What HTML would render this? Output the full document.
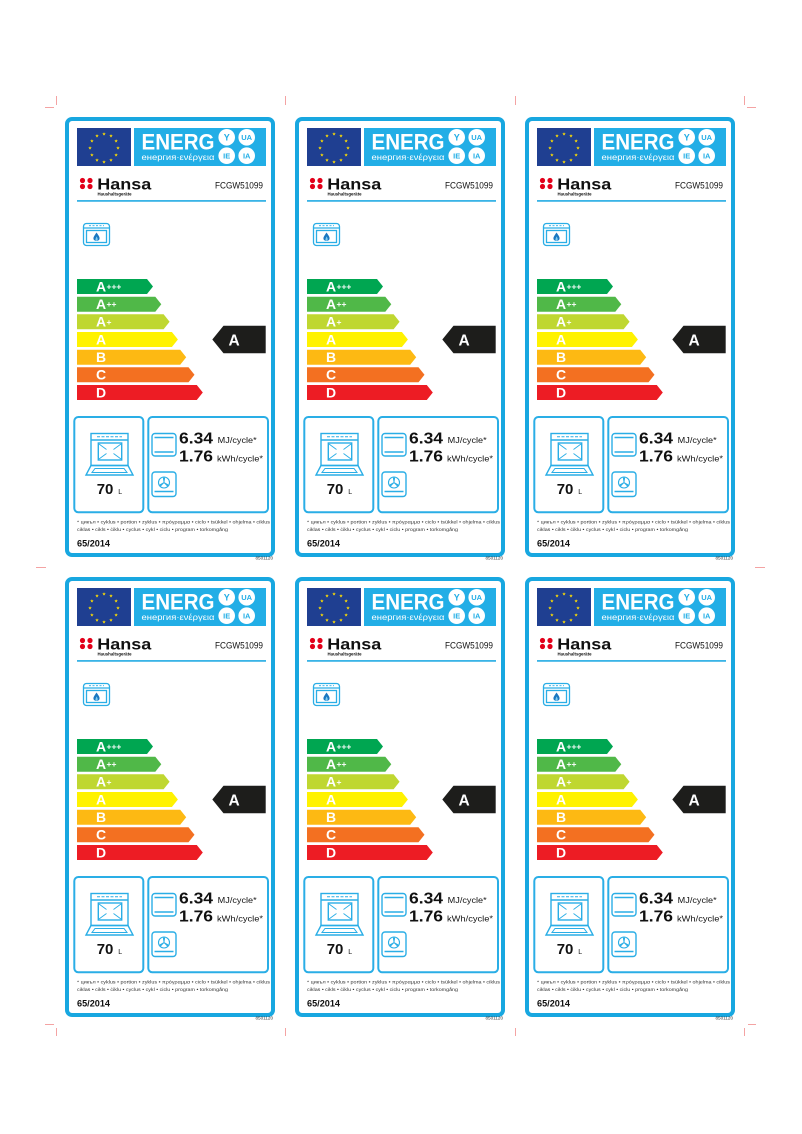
<!DOCTYPE html>
<html><head><meta charset="utf-8"><style>
html,body{margin:0;padding:0;background:#fff;}
svg{display:block;}
text{font-family:"Liberation Sans","DejaVu Sans",sans-serif;}
.w{fill:#fff;}
.b{font-weight:bold;}
.bl{fill:#111;}
.cy{fill:#22aee6;font-weight:bold;}
.bar{fill:#fff;font-weight:bold;font-size:14px;}
.pl{fill:#fff;font-weight:bold;font-size:8.5px;}
</style></head><body>
<svg width="802" height="1134" viewBox="0 0 802 1134" xmlns="http://www.w3.org/2000/svg">
<defs>
<polygon id="st" points="0,-1.9 0.44,-0.61 1.81,-0.59 0.71,0.23 1.12,1.54 0,0.75 -1.12,1.54 -0.71,0.23 -1.81,-0.59 -0.44,-0.61" fill="#ffdd00"/>
<g id="gfx">
 <rect x="2" y="2" width="206" height="436" rx="5" fill="#fff" stroke="#18a7e0" stroke-width="4"/>
 <rect x="12" y="11" width="54" height="38" fill="#1f3f91"/>
 <use href="#st" x="39" y="17"/><use href="#st" x="46" y="18.9"/><use href="#st" x="51.1" y="24"/>
 <use href="#st" x="53" y="31"/><use href="#st" x="51.1" y="38"/><use href="#st" x="46" y="43.1"/>
 <use href="#st" x="39" y="45"/><use href="#st" x="32" y="43.1"/><use href="#st" x="26.9" y="38"/>
 <use href="#st" x="25" y="31"/><use href="#st" x="26.9" y="24"/><use href="#st" x="32" y="18.9"/>
 <rect x="69" y="11" width="132" height="38" fill="#22aee6"/>
 <circle cx="161.7" cy="20.3" r="8.3" fill="#fff"/><circle cx="181.7" cy="20.3" r="8.3" fill="#fff"/>
 <circle cx="161.7" cy="38.7" r="8.3" fill="#fff"/><circle cx="181.7" cy="38.7" r="8.3" fill="#fff"/>
 <circle cx="17.5" cy="63.5" r="2.6" fill="#e2001a"/><circle cx="25" cy="63.5" r="2.6" fill="#e2001a"/>
 <circle cx="17.5" cy="69.5" r="2.6" fill="#e2001a"/><circle cx="25" cy="69.5" r="2.6" fill="#e2001a"/>
 <rect x="12" y="83" width="189" height="1.8" fill="#3ab4e6"/>
 <!-- gas oven icon -->
 <g fill="none" stroke="#2aaee6" stroke-width="1.3">
  <rect x="18.5" y="106.5" width="26" height="22" rx="3"/>
  <line x1="18.5" y1="111" x2="44.5" y2="111"/>
  <rect x="21.5" y="113.5" width="20" height="12"/>
  <line x1="24" y1="108.7" x2="39" y2="108.7" stroke-width="0.8" stroke-dasharray="2 1.5"/>
 </g>
 <path d="M31.5,115.5 C33.5,118.5 35,120 34.5,122 C34,124.5 29,124.5 28.5,122 C28,120 30,118 31.5,115.5Z" fill="#1b78c2"/>
 <path d="M31.5,119.5 C32.5,121 33,122 32.5,123 C32,124 31,124 30.5,123 C30.2,122 31,121 31.5,119.5Z" fill="#7fd0f2"/>
 <!-- bars -->
 <path d="M12,162H82L88,169.5L82,177H12Z" fill="#00a651"/>
 <path d="M12,179.7H90.3L96.3,187.2L90.3,194.7H12Z" fill="#50b848"/>
 <path d="M12,197.3H98.6L104.6,204.8L98.6,212.3H12Z" fill="#bfd730"/>
 <path d="M12,215H106.9L112.9,222.5L106.9,230H12Z" fill="#fff200"/>
 <path d="M12,232.7H115.2L121.2,240.2L115.2,247.7H12Z" fill="#fdb913"/>
 <path d="M12,250.3H123.5L129.5,257.8L123.5,265.3H12Z" fill="#f37021"/>
 <path d="M12,268H131.8L137.8,275.5L131.8,283H12Z" fill="#ed1c24"/>
 <path d="M147.3,222.5L158.5,208.7H200.7V236.3H158.5Z" fill="#1d1d1b"/>
 <!-- bottom boxes -->
 <rect x="9.3" y="300" width="69" height="95.3" rx="4" fill="none" stroke="#2aaee6" stroke-width="2"/>
 <rect x="83.3" y="300" width="119.7" height="95.3" rx="4" fill="none" stroke="#2aaee6" stroke-width="2"/>
 <!-- big oven -->
 <g fill="none" stroke="#2aaee6" stroke-width="1.4">
  <rect x="26" y="316.5" width="37" height="32"/>
  <line x1="26" y1="323" x2="63" y2="323"/>
  <line x1="32" y1="319.7" x2="57" y2="319.7" stroke-width="1" stroke-dasharray="3 1.5"/>
  <rect x="33.3" y="326" width="23.4" height="17"/>
  <line x1="34" y1="327" x2="41.5" y2="332.5" stroke-width="0.9"/>
  <line x1="56" y1="327" x2="48.5" y2="332.5" stroke-width="0.9"/>
  <line x1="34" y1="342" x2="41.5" y2="336.5" stroke-width="0.9"/>
  <line x1="56" y1="342" x2="48.5" y2="336.5" stroke-width="0.9"/>
  <polygon points="26,348.5 63,348.5 68,358 21,358"/>
  <polygon points="30,351.5 59,351.5 62,355.5 27,355.5" stroke-width="1"/>
 </g>
 <!-- small icons -->
 <g fill="none" stroke="#2aaee6" stroke-width="1.4">
  <rect x="87" y="316.5" width="24" height="22.5" rx="3"/>
  <line x1="89.5" y1="320.5" x2="108.5" y2="320.5"/>
  <line x1="89.5" y1="335" x2="108.5" y2="335"/>
  <rect x="87" y="355" width="24" height="24.5" rx="3"/>
  <circle cx="99" cy="365.5" r="5.5" stroke-width="1.1"/>
  <line x1="89.5" y1="374.5" x2="108.5" y2="374.5"/>
 </g>
 <path d="M99,365.5 L98.3,361 L99.7,361Z M99,365.5 L103,367.8 L102.3,369Z M99,365.5 L95,367.8 L95.7,369Z" fill="#2aaee6" stroke="#2aaee6" stroke-width="0.8"/>
</g>
</defs>

<!-- crop marks -->
<g stroke="#f4a3a3" stroke-width="1">
 <line x1="56.5" y1="96" x2="56.5" y2="105"/><line x1="45" y1="107.5" x2="54" y2="107.5"/>
 <line x1="285.5" y1="96" x2="285.5" y2="105"/><line x1="515.5" y1="96" x2="515.5" y2="105"/>
 <line x1="744.5" y1="96" x2="744.5" y2="105"/><line x1="747" y1="107.5" x2="756" y2="107.5"/>
 <line x1="36" y1="567.5" x2="46" y2="567.5"/><line x1="755" y1="567.5" x2="765" y2="567.5"/>
 <line x1="56.5" y1="1028" x2="56.5" y2="1036"/><line x1="45" y1="1024.5" x2="54" y2="1024.5"/>
 <line x1="285.5" y1="1028" x2="285.5" y2="1036"/><line x1="515.5" y1="1028" x2="515.5" y2="1036"/>
 <line x1="744.5" y1="1028" x2="744.5" y2="1036"/><line x1="748" y1="1024.5" x2="756" y2="1024.5"/>
</g>

<g transform="translate(65,117)">
 <use href="#gfx"/>
 <text x="76.5" y="32.5" class="w b" font-size="22" textLength="73" lengthAdjust="spacingAndGlyphs">ENERG</text>
 <text x="76.5" y="43" class="w" font-size="8.5" textLength="73" lengthAdjust="spacingAndGlyphs">енергия·ενέργεια</text>
 <text x="161.7" y="23.6" class="cy" font-size="9" text-anchor="middle">Y</text>
 <text x="181.7" y="23" class="cy" font-size="7.5" text-anchor="middle">UA</text>
 <text x="161.7" y="41.4" class="cy" font-size="7.5" text-anchor="middle">IE</text>
 <text x="181.7" y="41.4" class="cy" font-size="7.5" text-anchor="middle">IA</text>
 <text x="32.3" y="72.3" class="bl b" font-size="15.5" textLength="54" lengthAdjust="spacingAndGlyphs">Hansa</text>
 <text x="32.5" y="78.5" class="bl b" font-size="4.6" textLength="34" lengthAdjust="spacingAndGlyphs">Haushaltsgeräte</text>
 <text x="150" y="71.5" class="bl" font-size="9.3" textLength="48" lengthAdjust="spacingAndGlyphs">FCGW51099</text>
 <text x="31" y="174.3" class="bar">A</text><text x="41.5" y="172.5" class="pl">+++</text>
 <text x="31" y="192" class="bar">A</text><text x="41.5" y="190.2" class="pl">++</text>
 <text x="31" y="209.6" class="bar">A</text><text x="41.5" y="207.8" class="pl">+</text>
 <text x="31" y="227.3" class="bar">A</text>
 <text x="31" y="245" class="bar">B</text>
 <text x="31" y="262.6" class="bar">C</text>
 <text x="31" y="280.3" class="bar">D</text>
 <text x="163.5" y="228.5" class="w b" font-size="15.5">A</text>
 <text x="31.7" y="377" class="bl b" font-size="15">70</text>
 <text x="53.3" y="377" class="bl" font-size="7">L</text>
 <text x="114" y="326.3" class="bl b" font-size="15.5" textLength="34" lengthAdjust="spacingAndGlyphs">6.34</text>
 <text x="152.7" y="326" class="bl" font-size="8" textLength="39" lengthAdjust="spacingAndGlyphs">MJ/cycle*</text>
 <text x="114" y="344.7" class="bl b" font-size="15.5" textLength="34" lengthAdjust="spacingAndGlyphs">1.76</text>
 <text x="152" y="344.5" class="bl" font-size="8" textLength="46" lengthAdjust="spacingAndGlyphs">kWh/cycle*</text>
 <text x="12" y="406.5" fill="#333" font-size="4.6" textLength="193" lengthAdjust="spacingAndGlyphs">* цикъл • cyklus • portion • zyklus • πρόγραμμα • ciclo • tsükkel • ohjelma • ciklus</text>
 <text x="12" y="414" fill="#333" font-size="4.6" textLength="151" lengthAdjust="spacingAndGlyphs">ciklas • cikls • ċiklu • cyclus • cykl • ciclu • program • torkomgång</text>
 <text x="12" y="429.7" class="bl b" font-size="9.5" textLength="33" lengthAdjust="spacingAndGlyphs">65/2014</text>
 <text x="208" y="442.5" fill="#333" font-size="4.6" text-anchor="end">8501120</text>
</g>

<g transform="translate(295,117)">
 <use href="#gfx"/>
 <text x="76.5" y="32.5" class="w b" font-size="22" textLength="73" lengthAdjust="spacingAndGlyphs">ENERG</text>
 <text x="76.5" y="43" class="w" font-size="8.5" textLength="73" lengthAdjust="spacingAndGlyphs">енергия·ενέργεια</text>
 <text x="161.7" y="23.6" class="cy" font-size="9" text-anchor="middle">Y</text>
 <text x="181.7" y="23" class="cy" font-size="7.5" text-anchor="middle">UA</text>
 <text x="161.7" y="41.4" class="cy" font-size="7.5" text-anchor="middle">IE</text>
 <text x="181.7" y="41.4" class="cy" font-size="7.5" text-anchor="middle">IA</text>
 <text x="32.3" y="72.3" class="bl b" font-size="15.5" textLength="54" lengthAdjust="spacingAndGlyphs">Hansa</text>
 <text x="32.5" y="78.5" class="bl b" font-size="4.6" textLength="34" lengthAdjust="spacingAndGlyphs">Haushaltsgeräte</text>
 <text x="150" y="71.5" class="bl" font-size="9.3" textLength="48" lengthAdjust="spacingAndGlyphs">FCGW51099</text>
 <text x="31" y="174.3" class="bar">A</text><text x="41.5" y="172.5" class="pl">+++</text>
 <text x="31" y="192" class="bar">A</text><text x="41.5" y="190.2" class="pl">++</text>
 <text x="31" y="209.6" class="bar">A</text><text x="41.5" y="207.8" class="pl">+</text>
 <text x="31" y="227.3" class="bar">A</text>
 <text x="31" y="245" class="bar">B</text>
 <text x="31" y="262.6" class="bar">C</text>
 <text x="31" y="280.3" class="bar">D</text>
 <text x="163.5" y="228.5" class="w b" font-size="15.5">A</text>
 <text x="31.7" y="377" class="bl b" font-size="15">70</text>
 <text x="53.3" y="377" class="bl" font-size="7">L</text>
 <text x="114" y="326.3" class="bl b" font-size="15.5" textLength="34" lengthAdjust="spacingAndGlyphs">6.34</text>
 <text x="152.7" y="326" class="bl" font-size="8" textLength="39" lengthAdjust="spacingAndGlyphs">MJ/cycle*</text>
 <text x="114" y="344.7" class="bl b" font-size="15.5" textLength="34" lengthAdjust="spacingAndGlyphs">1.76</text>
 <text x="152" y="344.5" class="bl" font-size="8" textLength="46" lengthAdjust="spacingAndGlyphs">kWh/cycle*</text>
 <text x="12" y="406.5" fill="#333" font-size="4.6" textLength="193" lengthAdjust="spacingAndGlyphs">* цикъл • cyklus • portion • zyklus • πρόγραμμα • ciclo • tsükkel • ohjelma • ciklus</text>
 <text x="12" y="414" fill="#333" font-size="4.6" textLength="151" lengthAdjust="spacingAndGlyphs">ciklas • cikls • ċiklu • cyclus • cykl • ciclu • program • torkomgång</text>
 <text x="12" y="429.7" class="bl b" font-size="9.5" textLength="33" lengthAdjust="spacingAndGlyphs">65/2014</text>
 <text x="208" y="442.5" fill="#333" font-size="4.6" text-anchor="end">8501120</text>
</g>

<g transform="translate(525,117)">
 <use href="#gfx"/>
 <text x="76.5" y="32.5" class="w b" font-size="22" textLength="73" lengthAdjust="spacingAndGlyphs">ENERG</text>
 <text x="76.5" y="43" class="w" font-size="8.5" textLength="73" lengthAdjust="spacingAndGlyphs">енергия·ενέργεια</text>
 <text x="161.7" y="23.6" class="cy" font-size="9" text-anchor="middle">Y</text>
 <text x="181.7" y="23" class="cy" font-size="7.5" text-anchor="middle">UA</text>
 <text x="161.7" y="41.4" class="cy" font-size="7.5" text-anchor="middle">IE</text>
 <text x="181.7" y="41.4" class="cy" font-size="7.5" text-anchor="middle">IA</text>
 <text x="32.3" y="72.3" class="bl b" font-size="15.5" textLength="54" lengthAdjust="spacingAndGlyphs">Hansa</text>
 <text x="32.5" y="78.5" class="bl b" font-size="4.6" textLength="34" lengthAdjust="spacingAndGlyphs">Haushaltsgeräte</text>
 <text x="150" y="71.5" class="bl" font-size="9.3" textLength="48" lengthAdjust="spacingAndGlyphs">FCGW51099</text>
 <text x="31" y="174.3" class="bar">A</text><text x="41.5" y="172.5" class="pl">+++</text>
 <text x="31" y="192" class="bar">A</text><text x="41.5" y="190.2" class="pl">++</text>
 <text x="31" y="209.6" class="bar">A</text><text x="41.5" y="207.8" class="pl">+</text>
 <text x="31" y="227.3" class="bar">A</text>
 <text x="31" y="245" class="bar">B</text>
 <text x="31" y="262.6" class="bar">C</text>
 <text x="31" y="280.3" class="bar">D</text>
 <text x="163.5" y="228.5" class="w b" font-size="15.5">A</text>
 <text x="31.7" y="377" class="bl b" font-size="15">70</text>
 <text x="53.3" y="377" class="bl" font-size="7">L</text>
 <text x="114" y="326.3" class="bl b" font-size="15.5" textLength="34" lengthAdjust="spacingAndGlyphs">6.34</text>
 <text x="152.7" y="326" class="bl" font-size="8" textLength="39" lengthAdjust="spacingAndGlyphs">MJ/cycle*</text>
 <text x="114" y="344.7" class="bl b" font-size="15.5" textLength="34" lengthAdjust="spacingAndGlyphs">1.76</text>
 <text x="152" y="344.5" class="bl" font-size="8" textLength="46" lengthAdjust="spacingAndGlyphs">kWh/cycle*</text>
 <text x="12" y="406.5" fill="#333" font-size="4.6" textLength="193" lengthAdjust="spacingAndGlyphs">* цикъл • cyklus • portion • zyklus • πρόγραμμα • ciclo • tsükkel • ohjelma • ciklus</text>
 <text x="12" y="414" fill="#333" font-size="4.6" textLength="151" lengthAdjust="spacingAndGlyphs">ciklas • cikls • ċiklu • cyclus • cykl • ciclu • program • torkomgång</text>
 <text x="12" y="429.7" class="bl b" font-size="9.5" textLength="33" lengthAdjust="spacingAndGlyphs">65/2014</text>
 <text x="208" y="442.5" fill="#333" font-size="4.6" text-anchor="end">8501120</text>
</g>

<g transform="translate(65,577)">
 <use href="#gfx"/>
 <text x="76.5" y="32.5" class="w b" font-size="22" textLength="73" lengthAdjust="spacingAndGlyphs">ENERG</text>
 <text x="76.5" y="43" class="w" font-size="8.5" textLength="73" lengthAdjust="spacingAndGlyphs">енергия·ενέργεια</text>
 <text x="161.7" y="23.6" class="cy" font-size="9" text-anchor="middle">Y</text>
 <text x="181.7" y="23" class="cy" font-size="7.5" text-anchor="middle">UA</text>
 <text x="161.7" y="41.4" class="cy" font-size="7.5" text-anchor="middle">IE</text>
 <text x="181.7" y="41.4" class="cy" font-size="7.5" text-anchor="middle">IA</text>
 <text x="32.3" y="72.3" class="bl b" font-size="15.5" textLength="54" lengthAdjust="spacingAndGlyphs">Hansa</text>
 <text x="32.5" y="78.5" class="bl b" font-size="4.6" textLength="34" lengthAdjust="spacingAndGlyphs">Haushaltsgeräte</text>
 <text x="150" y="71.5" class="bl" font-size="9.3" textLength="48" lengthAdjust="spacingAndGlyphs">FCGW51099</text>
 <text x="31" y="174.3" class="bar">A</text><text x="41.5" y="172.5" class="pl">+++</text>
 <text x="31" y="192" class="bar">A</text><text x="41.5" y="190.2" class="pl">++</text>
 <text x="31" y="209.6" class="bar">A</text><text x="41.5" y="207.8" class="pl">+</text>
 <text x="31" y="227.3" class="bar">A</text>
 <text x="31" y="245" class="bar">B</text>
 <text x="31" y="262.6" class="bar">C</text>
 <text x="31" y="280.3" class="bar">D</text>
 <text x="163.5" y="228.5" class="w b" font-size="15.5">A</text>
 <text x="31.7" y="377" class="bl b" font-size="15">70</text>
 <text x="53.3" y="377" class="bl" font-size="7">L</text>
 <text x="114" y="326.3" class="bl b" font-size="15.5" textLength="34" lengthAdjust="spacingAndGlyphs">6.34</text>
 <text x="152.7" y="326" class="bl" font-size="8" textLength="39" lengthAdjust="spacingAndGlyphs">MJ/cycle*</text>
 <text x="114" y="344.7" class="bl b" font-size="15.5" textLength="34" lengthAdjust="spacingAndGlyphs">1.76</text>
 <text x="152" y="344.5" class="bl" font-size="8" textLength="46" lengthAdjust="spacingAndGlyphs">kWh/cycle*</text>
 <text x="12" y="406.5" fill="#333" font-size="4.6" textLength="193" lengthAdjust="spacingAndGlyphs">* цикъл • cyklus • portion • zyklus • πρόγραμμα • ciclo • tsükkel • ohjelma • ciklus</text>
 <text x="12" y="414" fill="#333" font-size="4.6" textLength="151" lengthAdjust="spacingAndGlyphs">ciklas • cikls • ċiklu • cyclus • cykl • ciclu • program • torkomgång</text>
 <text x="12" y="429.7" class="bl b" font-size="9.5" textLength="33" lengthAdjust="spacingAndGlyphs">65/2014</text>
 <text x="208" y="442.5" fill="#333" font-size="4.6" text-anchor="end">8501120</text>
</g>

<g transform="translate(295,577)">
 <use href="#gfx"/>
 <text x="76.5" y="32.5" class="w b" font-size="22" textLength="73" lengthAdjust="spacingAndGlyphs">ENERG</text>
 <text x="76.5" y="43" class="w" font-size="8.5" textLength="73" lengthAdjust="spacingAndGlyphs">енергия·ενέργεια</text>
 <text x="161.7" y="23.6" class="cy" font-size="9" text-anchor="middle">Y</text>
 <text x="181.7" y="23" class="cy" font-size="7.5" text-anchor="middle">UA</text>
 <text x="161.7" y="41.4" class="cy" font-size="7.5" text-anchor="middle">IE</text>
 <text x="181.7" y="41.4" class="cy" font-size="7.5" text-anchor="middle">IA</text>
 <text x="32.3" y="72.3" class="bl b" font-size="15.5" textLength="54" lengthAdjust="spacingAndGlyphs">Hansa</text>
 <text x="32.5" y="78.5" class="bl b" font-size="4.6" textLength="34" lengthAdjust="spacingAndGlyphs">Haushaltsgeräte</text>
 <text x="150" y="71.5" class="bl" font-size="9.3" textLength="48" lengthAdjust="spacingAndGlyphs">FCGW51099</text>
 <text x="31" y="174.3" class="bar">A</text><text x="41.5" y="172.5" class="pl">+++</text>
 <text x="31" y="192" class="bar">A</text><text x="41.5" y="190.2" class="pl">++</text>
 <text x="31" y="209.6" class="bar">A</text><text x="41.5" y="207.8" class="pl">+</text>
 <text x="31" y="227.3" class="bar">A</text>
 <text x="31" y="245" class="bar">B</text>
 <text x="31" y="262.6" class="bar">C</text>
 <text x="31" y="280.3" class="bar">D</text>
 <text x="163.5" y="228.5" class="w b" font-size="15.5">A</text>
 <text x="31.7" y="377" class="bl b" font-size="15">70</text>
 <text x="53.3" y="377" class="bl" font-size="7">L</text>
 <text x="114" y="326.3" class="bl b" font-size="15.5" textLength="34" lengthAdjust="spacingAndGlyphs">6.34</text>
 <text x="152.7" y="326" class="bl" font-size="8" textLength="39" lengthAdjust="spacingAndGlyphs">MJ/cycle*</text>
 <text x="114" y="344.7" class="bl b" font-size="15.5" textLength="34" lengthAdjust="spacingAndGlyphs">1.76</text>
 <text x="152" y="344.5" class="bl" font-size="8" textLength="46" lengthAdjust="spacingAndGlyphs">kWh/cycle*</text>
 <text x="12" y="406.5" fill="#333" font-size="4.6" textLength="193" lengthAdjust="spacingAndGlyphs">* цикъл • cyklus • portion • zyklus • πρόγραμμα • ciclo • tsükkel • ohjelma • ciklus</text>
 <text x="12" y="414" fill="#333" font-size="4.6" textLength="151" lengthAdjust="spacingAndGlyphs">ciklas • cikls • ċiklu • cyclus • cykl • ciclu • program • torkomgång</text>
 <text x="12" y="429.7" class="bl b" font-size="9.5" textLength="33" lengthAdjust="spacingAndGlyphs">65/2014</text>
 <text x="208" y="442.5" fill="#333" font-size="4.6" text-anchor="end">8501120</text>
</g>

<g transform="translate(525,577)">
 <use href="#gfx"/>
 <text x="76.5" y="32.5" class="w b" font-size="22" textLength="73" lengthAdjust="spacingAndGlyphs">ENERG</text>
 <text x="76.5" y="43" class="w" font-size="8.5" textLength="73" lengthAdjust="spacingAndGlyphs">енергия·ενέργεια</text>
 <text x="161.7" y="23.6" class="cy" font-size="9" text-anchor="middle">Y</text>
 <text x="181.7" y="23" class="cy" font-size="7.5" text-anchor="middle">UA</text>
 <text x="161.7" y="41.4" class="cy" font-size="7.5" text-anchor="middle">IE</text>
 <text x="181.7" y="41.4" class="cy" font-size="7.5" text-anchor="middle">IA</text>
 <text x="32.3" y="72.3" class="bl b" font-size="15.5" textLength="54" lengthAdjust="spacingAndGlyphs">Hansa</text>
 <text x="32.5" y="78.5" class="bl b" font-size="4.6" textLength="34" lengthAdjust="spacingAndGlyphs">Haushaltsgeräte</text>
 <text x="150" y="71.5" class="bl" font-size="9.3" textLength="48" lengthAdjust="spacingAndGlyphs">FCGW51099</text>
 <text x="31" y="174.3" class="bar">A</text><text x="41.5" y="172.5" class="pl">+++</text>
 <text x="31" y="192" class="bar">A</text><text x="41.5" y="190.2" class="pl">++</text>
 <text x="31" y="209.6" class="bar">A</text><text x="41.5" y="207.8" class="pl">+</text>
 <text x="31" y="227.3" class="bar">A</text>
 <text x="31" y="245" class="bar">B</text>
 <text x="31" y="262.6" class="bar">C</text>
 <text x="31" y="280.3" class="bar">D</text>
 <text x="163.5" y="228.5" class="w b" font-size="15.5">A</text>
 <text x="31.7" y="377" class="bl b" font-size="15">70</text>
 <text x="53.3" y="377" class="bl" font-size="7">L</text>
 <text x="114" y="326.3" class="bl b" font-size="15.5" textLength="34" lengthAdjust="spacingAndGlyphs">6.34</text>
 <text x="152.7" y="326" class="bl" font-size="8" textLength="39" lengthAdjust="spacingAndGlyphs">MJ/cycle*</text>
 <text x="114" y="344.7" class="bl b" font-size="15.5" textLength="34" lengthAdjust="spacingAndGlyphs">1.76</text>
 <text x="152" y="344.5" class="bl" font-size="8" textLength="46" lengthAdjust="spacingAndGlyphs">kWh/cycle*</text>
 <text x="12" y="406.5" fill="#333" font-size="4.6" textLength="193" lengthAdjust="spacingAndGlyphs">* цикъл • cyklus • portion • zyklus • πρόγραμμα • ciclo • tsükkel • ohjelma • ciklus</text>
 <text x="12" y="414" fill="#333" font-size="4.6" textLength="151" lengthAdjust="spacingAndGlyphs">ciklas • cikls • ċiklu • cyclus • cykl • ciclu • program • torkomgång</text>
 <text x="12" y="429.7" class="bl b" font-size="9.5" textLength="33" lengthAdjust="spacingAndGlyphs">65/2014</text>
 <text x="208" y="442.5" fill="#333" font-size="4.6" text-anchor="end">8501120</text>
</g>
</svg>
</body></html>
